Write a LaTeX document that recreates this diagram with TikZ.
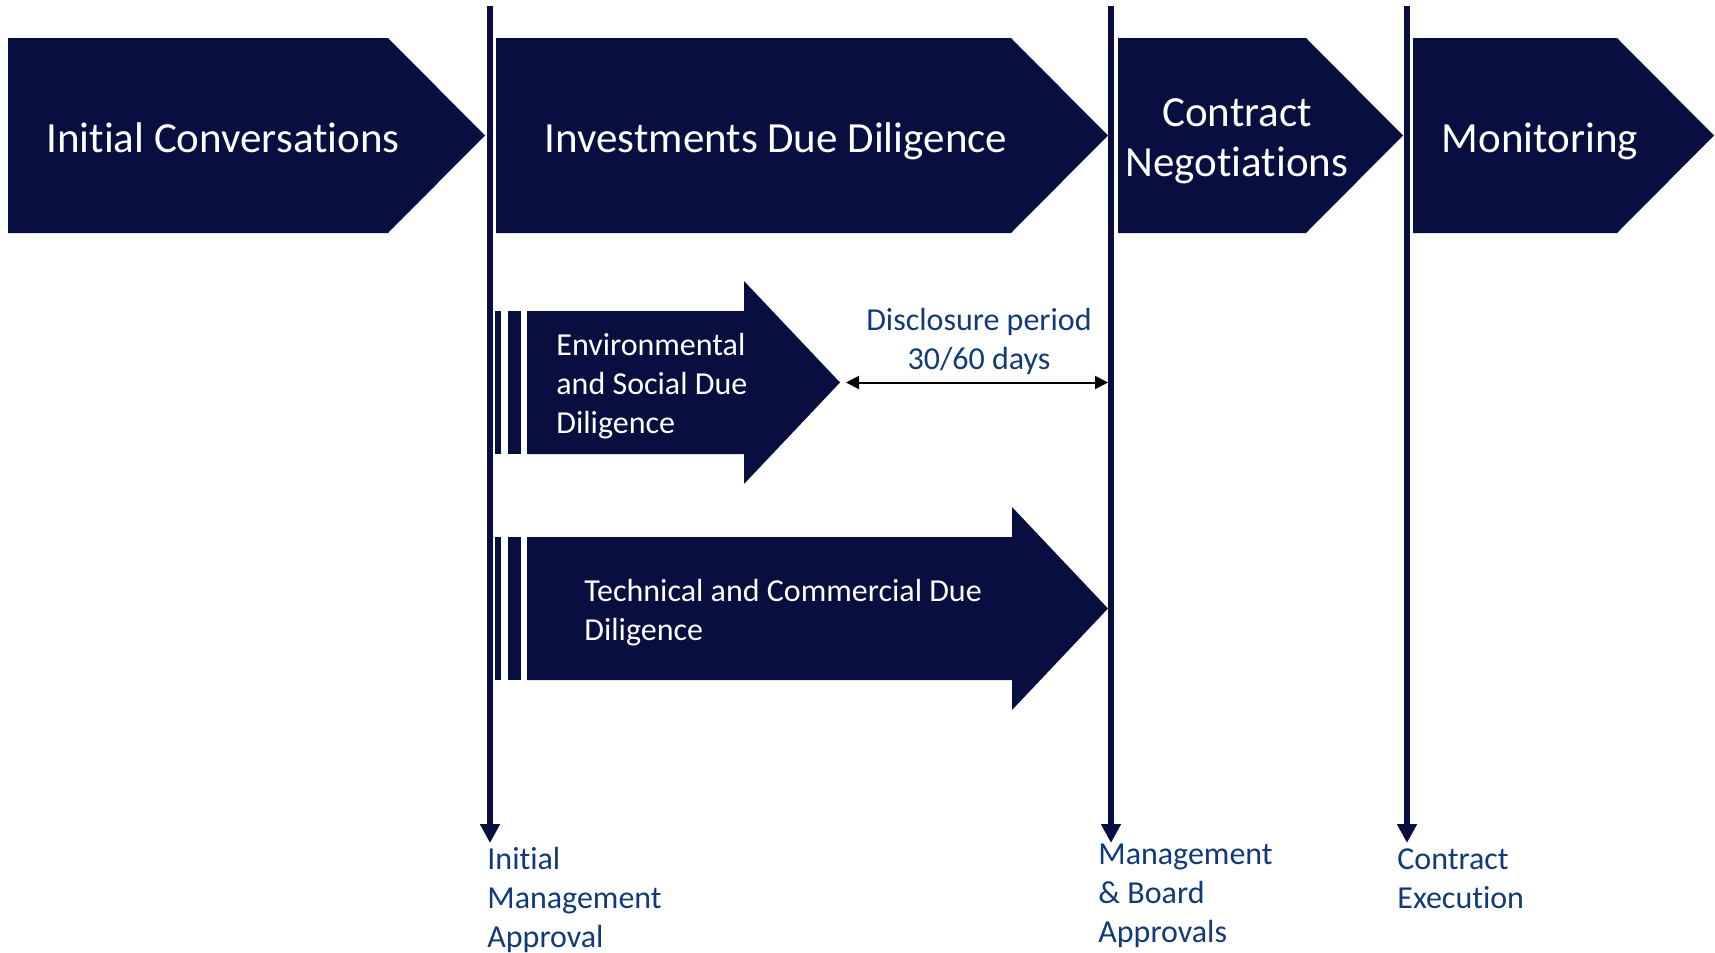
\documentclass[tikz,border=0pt]{standalone}
\usepackage{fontspec}
\setmainfont{Carlito}[Ligatures=NoCommon]
\usetikzlibrary{arrows.meta}

\definecolor{navy}{RGB}{8,14,64}
\definecolor{labelblue}{RGB}{18,58,120}

\begin{document}
\begin{tikzpicture}[x=0.5pt,y=-0.5pt]
            \tikzset{phase/.style={fill=navy},
            phasetext/.style={white, inner sep=0, font=\fontsize{21.5}{24.5}\selectfont, align=center},
            ddtext/.style={white, inner sep=0, font=\fontsize{16}{19.3}\selectfont, align=left},
            gatetext/.style={labelblue, inner sep=0, font=\fontsize{16}{19.3}\selectfont, align=left},
            gate/.style={draw=navy, line width=3pt, -{Triangle[length=9.5pt,width=9.5pt]}},
            period/.style={draw=black, line width=1pt, {Triangle[length=6.5pt,width=6.5pt]}-{Triangle[length=6.5pt,width=6.5pt]}}}

            \useasboundingbox (0,0) rectangle (1715,953);

            % top row: #1 left, #2 shoulder (head is 97 deep)
            \def\phasebox#1#2{
                \fill[phase] (#1,38) -- (#2,38) -- ({#2+97},135.5) -- (#2,233) -- (#1,233) -- cycle;
            }
            \phasebox{8}{388}
            \phasebox{496}{1011}
            \phasebox{1118}{1306}
            \phasebox{1413}{1617}

            \node[phasetext, anchor=base] (conv) at (223,152) {Initial Conversations};
            \node[phasetext, anchor=base] (invdd) at (776,152) {Investments Due Diligence};
            \node[phasetext, anchor=base] (contract) at (1237,126) {Contract};
            \node[phasetext, anchor=base] (negot) at (1237,176) {Negotiations};
            \node[phasetext, anchor=base] (monit) at (1540,152) {Monitoring};

            % due diligence arrows: #1 centre y, #2 shoulder x
            \def\ddarrow#1#2{
                \fill[phase] (495,{#1-71.5}) rectangle (501,{#1+71.5});
                \fill[phase] (507.5,{#1-71.5}) rectangle (520.5,{#1+71.5});
                \fill[phase] (527,{#1-71.5}) -- (#2,{#1-71.5}) -- (#2,{#1-101.5}) -- ({#2+96},#1) -- (#2,{#1+101.5}) -- (#2,{#1+71.5}) -- (527,{#1+71.5}) -- cycle;
            }
            \ddarrow{382.5}{744}
            \ddarrow{608.5}{1012}
            \coordinate (envtip) at (840,382.5);

            % multi-line nodes: base is the last line
            \node[ddtext, anchor=base west] (esdd) at (556,433) {Environmental\\and Social Due\\Diligence};
            \node[ddtext, anchor=base west] (tcdd) at (584,640) {Technical and Commercial Due\\Diligence};

            % gates
            \coordinate (g1top) at (490,6);
            \coordinate (g1end) at (490,843);
            \coordinate (g2top) at (1111,6);
            \coordinate (g2end) at (1111,843);
            \coordinate (g3top) at (1407,6);
            \coordinate (g3end) at (1407,843);
            \draw[gate] (g1top) -- (g1end);
            \draw[gate] (g2top) -- (g2end);
            \draw[gate] (g3top) -- (g3end);
            \coordinate (g2mid) at (1108,382.5);

            \draw[period, shorten <=3pt] (envtip) -- (g2mid);
            \node[labelblue, inner sep=0, align=center, font=\fontsize{16}{19.3}\selectfont, anchor=base] (disc) at (979,369) {Disclosure period\\30/60 days};

            \node[gatetext, anchor=base west] (imapp) at (487,947) {Initial\\Management\\Approval};
            \node[gatetext, anchor=base west] (mbapp) at (1098,942) {Management\\\& Board\\Approvals};
            \node[gatetext, anchor=base west] (cexec) at (1397,908) {Contract\\Execution};
\end{tikzpicture}
\end{document}
